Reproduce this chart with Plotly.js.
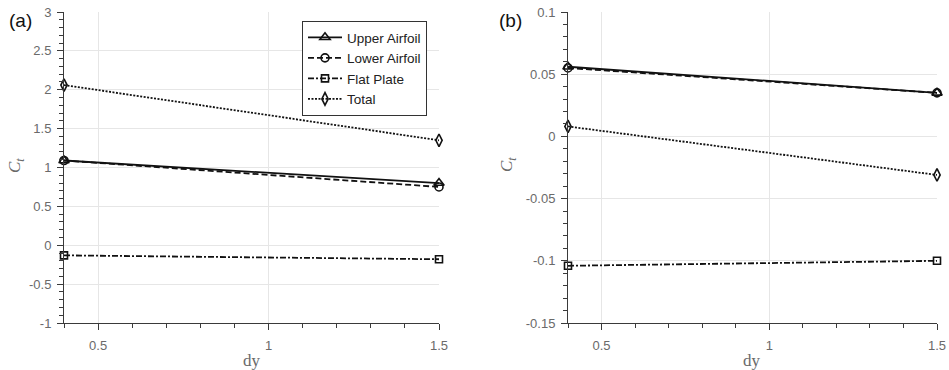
<!DOCTYPE html>
<html>
<head>
<meta charset="utf-8">
<script src="https://cdn.plot.ly/plotly-3.0.1.min.js"></script>
<style>html,body{margin:0;padding:0;background:#fff;}#chart{width:949px;height:370px;}</style>
</head>
<body>
<div id="chart"></div>
<script>
// Data
const dy = [0.4, 1.5];
const seriesNames = ['Upper Airfoil', 'Lower Airfoil', 'Flat Plate', 'Total'];
// Panel (a)
const upperA = [1.09, 0.80];
const lowerA = [1.09, 0.75];
const flatA  = [-0.13, -0.18];
const totalA = [2.06, 1.35];
// Panel (b)
const upperB = [0.056, 0.035];
const lowerB = [0.055, 0.035];
const flatB  = [-0.104, -0.100];
const totalB = [0.008, -0.031];
// Tick labels
const xTickVals = [0.5, 1, 1.5];
const xTickText = ['0.5', '1', '1.5'];
const yTickValsA = [-1, -0.5, 0, 0.5, 1, 1.5, 2, 2.5, 3];
const yTickTextA = ['-1', '-0.5', '0', '0.5', '1', '1.5', '2', '2.5', '3'];
const yTickValsB = [-0.15, -0.1, -0.05, 0, 0.05, 0.1];
const yTickTextB = ['-0.15', '-0.1', '-0.05', '0', '0.05', '0.1'];

const ink = '#111111';
const styles = [
  {dash: 'solid', symbol: 'triangle-up-open', size: 9},
  {dash: '6px,3px', symbol: 'circle-open', size: 8},
  {dash: '6px,2px,2px,2px', symbol: 'square-open', size: 7},
  {dash: '2px,1.5px', symbol: 'diamond-tall-open', size: 9}
];

function mk(y, i, xa, ya, show) {
  return {
    x: dy, y: y, type: 'scatter', mode: 'lines+markers', cliponaxis: false,
    name: seriesNames[i], xaxis: xa, yaxis: ya, showlegend: show,
    line: {color: ink, width: 1.8, dash: styles[i].dash},
    marker: {symbol: styles[i].symbol, size: styles[i].size, color: ink, line: {color: ink, width: 1.6}}
  };
}

const dataA = [upperA, lowerA, flatA, totalA];
const dataB = [upperB, lowerB, flatB, totalB];
const traces = [];
dataA.forEach((y, i) => traces.push(mk(y, i, 'x', 'y', true)));
dataB.forEach((y, i) => traces.push(mk(y, i, 'x2', 'y2', false)));

const W = 949, H = 370;
const tickFont = {family: 'Liberation Sans, Arial, sans-serif', size: 13, color: '#6a6a6a'};
const gridC = '#e6e6e6';
const axisC = '#3a3a3a';

function xAxis(dom, anchor) {
  return {
    domain: dom, anchor: anchor, range: [0.4, 1.5],
    tickmode: 'array', tickvals: xTickVals, ticktext: xTickText,
    ticks: 'outside', ticklen: 6, tickcolor: axisC, tickwidth: 1,
    ticklabelstandoff: 4,
    minor: {tickmode: 'linear', tick0: 0, dtick: 0.1, ticks: 'outside', ticklen: 4, tickcolor: axisC, showgrid: false},
    showline: true, linecolor: axisC, linewidth: 1,
    showgrid: true, gridcolor: gridC, gridwidth: 1, zeroline: false,
    tickfont: tickFont, fixedrange: true
  };
}
function yAxis(dom, anchor, range, vals, text, minorD) {
  return {
    domain: dom, anchor: anchor, range: range,
    tickmode: 'array', tickvals: vals, ticktext: text,
    ticks: 'outside', ticklen: 6, tickcolor: axisC, tickwidth: 1,
    ticklabelstandoff: 3,
    minor: {tickmode: 'linear', tick0: 0, dtick: minorD, ticks: 'outside', ticklen: 4, tickcolor: axisC, showgrid: false},
    showline: true, linecolor: axisC, linewidth: 1,
    showgrid: true, gridcolor: gridC, gridwidth: 1, zeroline: false,
    tickfont: tickFont, fixedrange: true
  };
}

const yDom = [1 - 323 / H, 1 - 12 / H];
const layout = {
  width: W, height: H,
  margin: {l: 0, r: 0, t: 0, b: 0},
  paper_bgcolor: '#fff', plot_bgcolor: '#fff',
  showlegend: true,
  xaxis: xAxis([64 / W, 439 / W], 'y'),
  yaxis: yAxis(yDom, 'x', [-1, 3], yTickValsA, yTickTextA, 0.1),
  xaxis2: xAxis([568 / W, 937 / W], 'y2'),
  yaxis2: yAxis(yDom, 'x2', [-0.15, 0.1], yTickValsB, yTickTextB, 0.01),
  legend: {
    x: 302 / W, y: 1 - 21 / H, xanchor: 'left', yanchor: 'top',
    bgcolor: '#fff', bordercolor: '#333', borderwidth: 1,
    font: {family: 'Liberation Sans, Arial, sans-serif', size: 13.5, color: '#222'},
    tracegroupgap: 0, itemwidth: 34
  },
  annotations: [
    {text: '(a)', x: 7 / W, y: 1 - 21 / H, xref: 'paper', yref: 'paper', xanchor: 'left', yanchor: 'middle', showarrow: false,
     font: {family: 'Liberation Sans, Arial, sans-serif', size: 19, color: '#111'}},
    {text: '(b)', x: 497 / W, y: 1 - 21 / H, xref: 'paper', yref: 'paper', xanchor: 'left', yanchor: 'middle', showarrow: false,
     font: {family: 'Liberation Sans, Arial, sans-serif', size: 19, color: '#111'}},
    {text: '<i>C<sub>t</sub></i>', x: 16 / W, y: 1 - 165 / H, xref: 'paper', yref: 'paper', xanchor: 'center', yanchor: 'middle', showarrow: false, textangle: -90,
     font: {family: 'Liberation Serif, Times New Roman, serif', size: 17, color: '#6a6a6a'}},
    {text: '<i>C<sub>t</sub></i>', x: 508 / W, y: 1 - 165 / H, xref: 'paper', yref: 'paper', xanchor: 'center', yanchor: 'middle', showarrow: false, textangle: -90,
     font: {family: 'Liberation Serif, Times New Roman, serif', size: 17, color: '#6a6a6a'}},
    {text: 'dy', x: 252 / W, y: 1 - 360 / H, xref: 'paper', yref: 'paper', xanchor: 'center', yanchor: 'middle', showarrow: false,
     font: {family: 'Liberation Serif, Times New Roman, serif', size: 17, color: '#6a6a6a'}},
    {text: 'dy', x: 752 / W, y: 1 - 360 / H, xref: 'paper', yref: 'paper', xanchor: 'center', yanchor: 'middle', showarrow: false,
     font: {family: 'Liberation Serif, Times New Roman, serif', size: 17, color: '#6a6a6a'}}
  ]
};

Plotly.newPlot('chart', traces, layout, {displayModeBar: false, staticPlot: true});
</script>
</body>
</html>
